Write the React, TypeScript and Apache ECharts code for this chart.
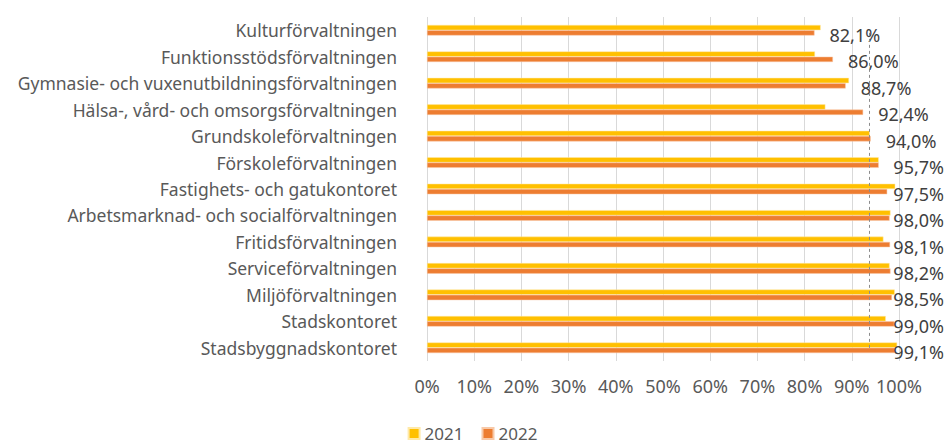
import React, { useEffect, useRef } from "react";
import * as echarts from "echarts";

const categories = [
  "Kulturförvaltningen",
  "Funktionsstödsförvaltningen",
  "Gymnasie- och vuxenutbildningsförvaltningen",
  "Hälsa-, vård- och omsorgsförvaltningen",
  "Grundskoleförvaltningen",
  "Förskoleförvaltningen",
  "Fastighets- och gatukontoret",
  "Arbetsmarknad- och socialförvaltningen",
  "Fritidsförvaltningen",
  "Serviceförvaltningen",
  "Miljöförvaltningen",
  "Stadskontoret",
  "Stadsbyggnadskontoret",
];

const values2021 = [83.4, 82.2, 89.4, 84.4, 93.8, 95.7, 99.2, 98.2, 96.7, 98.0, 99.1, 97.2, 99.6];
const values2022 = [82.1, 86.0, 88.7, 92.4, 94.0, 95.7, 97.5, 98.0, 98.1, 98.2, 98.5, 99.0, 99.1];
const referenceValue = 93.6;
const xTicks = [0, 10, 20, 30, 40, 50, 60, 70, 80, 90, 100];

const FONT = "'Noto Sans', sans-serif";
const TEXT = "#595959";

export default function App() {
  const ref = useRef<HTMLDivElement>(null);

  useEffect(() => {
    if (!ref.current) return;
    const chart = echarts.init(ref.current, undefined, { renderer: "svg" });
    const W = 945;
    chart.setOption({
      animation: false,
      textStyle: { fontFamily: FONT },
      legend: {
        data: ["2021", "2022"],
        bottom: 2,
        padding: 0,
        left: "center",
        itemWidth: 11,
        itemHeight: 11,
        itemGap: 18,
        icon: "rect",
        textStyle: { fontSize: 17, color: TEXT, fontFamily: FONT },
      },
      grid: { left: 427, right: 46, top: 17, bottom: 83 },
      xAxis: {
        type: "value",
        min: xTicks[0],
        max: xTicks[xTicks.length - 1],
        interval: 10,
        axisLine: { show: false },
        axisTick: { show: false },
        splitLine: { show: true, lineStyle: { color: "#D9D9D9", width: 1 } },
        axisLabel: {
          formatter: (v: number) => `${v}%`,
          fontSize: 18,
          color: TEXT,
          margin: 16,
          fontFamily: FONT,
        },
      },
      yAxis: {
        type: "category",
        data: categories,
        inverse: true,
        axisLine: { show: false },
        axisTick: { show: false },
        axisLabel: { fontSize: 17.5, color: TEXT, margin: 30, fontFamily: FONT },
      },
      series: [
        {
          name: "2021",
          type: "bar",
          data: values2021,
          barWidth: 5.3,
          barGap: "0%",
          itemStyle: { color: "#FFC000", borderColor: "#FFE9A8", borderWidth: 0.5 },
        },
        {
          name: "2022",
          type: "bar",
          data: values2022,
          barWidth: 5.3,
          barGap: "0%",
          itemStyle: { color: "#ED7D31", borderColor: "#F8C9A8", borderWidth: 0.5 },
          label: {
            show: true,
            position: "right",
            distance: 15,
            offset: [0, 2],
            fontSize: 18,
            color: "#404040",
            fontFamily: FONT,
            formatter: (p: any) => `${p.value.toFixed(1).replace(".", ",")}%`,
          },
          labelLayout: (params: any) => {
            const r = params.labelRect;
            const maxX = W - 1 - r.width;
            return {
              x: Math.min(r.x, maxX),
              y: r.y + r.height / 2,
              align: "left",
              verticalAlign: "middle",
            };
          },
          markLine: {
            silent: true,
            symbol: "none",
            label: { show: false },
            lineStyle: { color: "#8C8C8C", type: [3, 3], width: 1 },
            data: [
              [
                { coord: [referenceValue, categories[0]] },
                { coord: [referenceValue, categories[categories.length - 1]] },
              ],
            ],
          },
        },
      ],
    });
    return () => chart.dispose();
  }, []);

  return <div ref={ref} style={{ width: 945, height: 444, position: "absolute", left: 0, top: 0 }} />;
}
